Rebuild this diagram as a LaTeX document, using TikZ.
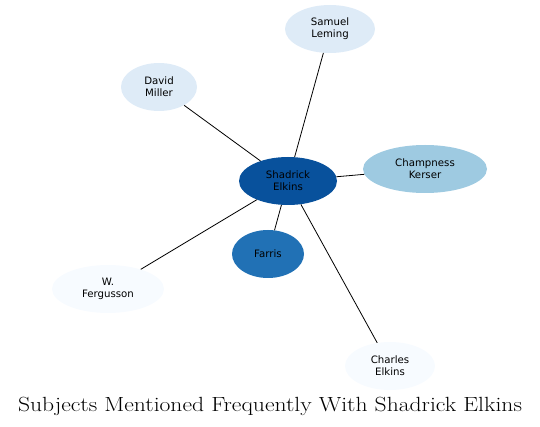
\documentclass[tikz,border=0pt]{standalone}
\usepackage{fontspec}
\newfontfamily\nodefont{DejaVu Sans}
\usetikzlibrary{shapes.geometric}
\definecolor{c1}{HTML}{08519C}
\definecolor{c2}{HTML}{DEEBF7}
\definecolor{c3}{HTML}{9ECAE1}
\definecolor{c4}{HTML}{2171B5}
\definecolor{c5}{HTML}{F7FBFF}
\tikzset{
  person/.style={ellipse, inner sep=0pt, align=center,
    font=\nodefont\fontsize{10.2}{12}\selectfont, text=black},
  link/.style={draw=black, line width=0.8pt}
}
\begin{document}
\begin{tikzpicture}[x=1pt,y=-1pt]
\useasboundingbox (0,0) rectangle (540,427);
\node[person, fill=c1, minimum width=98pt, minimum height=48pt] (se) at (288,181) {Shadrick\\Elkins};
\node[person, fill=c2, minimum width=90pt, minimum height=48pt] (sl) at (330,29) {Samuel\\Leming};
\node[person, fill=c2, minimum width=76pt, minimum height=48pt] (dm) at (159,87) {David\\Miller};
\node[person, fill=c3, minimum width=124pt, minimum height=48pt] (ck) at (425,169) {Champness\\Kerser};
\node[person, fill=c4, minimum width=72pt, minimum height=48pt] (fa) at (268,254) {Farris};
\node[person, fill=c5, minimum width=112pt, minimum height=48pt] (wf) at (108,289) {W.\\Fergusson};
\node[person, fill=c5, minimum width=90pt, minimum height=48pt] (ce) at (390,366) {Charles\\Elkins};
\draw[link] (se) -- (sl);
\draw[link] (se) -- (dm);
\draw[link] (se) -- (ck);
\draw[link] (se) -- (fa);
\draw[link] (se) -- (wf);
\draw[link] (se) -- (ce);
\node[font=\fontsize{20.5}{24}\selectfont, anchor=base, inner sep=0pt] (title) at (270,411) {\scalebox{1.15}[1]{Subjects Mentioned Frequently With Shadrick Elkins}};
\end{tikzpicture}
\end{document}
